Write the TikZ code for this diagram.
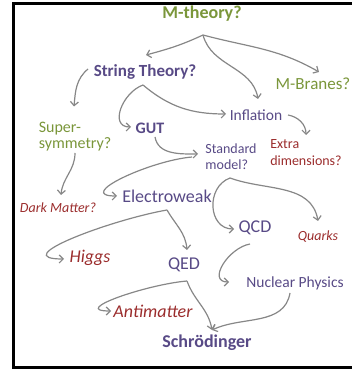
\documentclass[tikz,border=0pt]{standalone}
\usepackage{fontspec}
\setmainfont{Carlito}
\usepackage{xcolor}
\usetikzlibrary{arrows.meta, calc, positioning}
\definecolor{mgreen}{RGB}{122,150,58}
\definecolor{mpurple}{RGB}{88,74,134}
\definecolor{mred}{RGB}{155,45,45}
\definecolor{arrgray}{RGB}{135,135,135}

\begin{document}
\begin{tikzpicture}[x=1pt, y=1pt, line width=1.1pt,
    arr/.style={-{Straight Barb[length=4pt,width=8pt]}, draw=arrgray, line width=1.2pt},
    gn/.style={text=mgreen, inner sep=0pt},
    pu/.style={text=mpurple, inner sep=0pt},
    rd/.style={text=mred, inner sep=0pt, font=\itshape}]
            \useasboundingbox (0,0) rectangle (352,369);
            \draw[line width=3pt] (360,365.5) -- (13.5,365.5) -- (13.5,1.5) -- (360,1.5);
            % theories
            \node[gn, font=\bfseries\fontsize{18}{20}\selectfont] (mth) at (202,355) {M-theory?};
            \node[pu, font=\bfseries\fontsize{17}{19}\selectfont] (st) at (145,297) {String Theory?};
            \node[gn, font=\fontsize{17}{19}\selectfont] (mb) at (313,285) {M-Branes?};
            \node[pu, font=\fontsize{15.5}{17}\selectfont] (inf) at (256,254) {Inflation};
            \node[gn, font=\fontsize{16}{16}\selectfont, align=left] (susy) at (75,232.5) {Super-\\symmetry?};
            \node[pu, font=\bfseries\fontsize{16}{18}\selectfont] (gut) at (150,241) {GUT};
            \node[pu, font=\fontsize{14}{16}\selectfont, align=left] (sm) at (231,212) {Standard\\model?};
            \node[rd, font=\upshape\fontsize{14}{17}\selectfont, align=left] (extra) at (306,216) {Extra\\dimensions?};
            \node[rd, font=\itshape\fontsize{14}{16}\selectfont] (dm) at (58,161) {Dark Matter?};
            \node[pu, font=\fontsize{18}{20}\selectfont] (ew) at (167,173) {Electroweak};
            \node[pu, font=\fontsize{18}{20}\selectfont] (qcd) at (255,141) {QCD};
            \node[rd, font=\itshape\fontsize{14}{16}\selectfont] (quarks) at (318,132) {Quarks};
            \node[rd, font=\itshape\fontsize{18}{20}\selectfont] (higgs) at (90,111) {Higgs};
            \node[pu, font=\fontsize{18}{20}\selectfont] (qed) at (184,104) {QED};
            \node[pu, font=\fontsize{15.5}{17}\selectfont] (nuc) at (295,86) {Nuclear Physics};
            \node[rd, font=\itshape\fontsize{18}{20}\selectfont] (anti) at (153,58) {Antimatter};
            \node[pu, font=\bfseries\fontsize{18}{20}\selectfont] (sch) at (207,26) {Schrödinger};
            % branch points
            \coordinate (mthb) at ($(mth.center)+(1,-21)$);
            \coordinate (stb) at ($(st.center)+(-2,-13)$);
            \coordinate (ewb) at ($(ew.center)+(0,-14)$);
            \coordinate (smb) at ($(sm.center)+(-1,-21)$);
            \coordinate (qedb) at ($(qed.center)+(3,-16)$);
            % links
            \draw[arr] (mthb) to[out=205, in=15] ($(st.center)+(1,17)$);
            \draw[arr] (mthb) to[out=-75, in=100] ($(inf.center)+(2,16)$);
            \draw[arr] (mthb) to[out=-15, in=150] ($(mb.center)+(6,12)$);
            \draw[arr] ($(st.center)+(-57,3)$) to[out=220, in=85] ($(susy.center)+(-1,30)$);
            \draw[arr] (stb) to[out=200, in=180, looseness=1.3] ($(gut.center)+(-19,1)$);
            \draw[arr] (stb) to[out=-40, in=180] ($(inf.center)+(-30,1)$);
            \draw[arr] ($(inf.center)+(32,0)$) to[out=-10, in=90] ($(extra.center)+(0,18)$);
            \draw[arr] ($(gut.center)+(5,-9)$) to[out=-80, in=180] ($(sm.center)+(-33,3)$);
            \draw[arr] ($(sm.center)+(-39,0)$) to[out=185, in=180, looseness=1.3] ($(ew.center)+(-50,0)$);
            \draw[arr] ($(susy.center)+(0,-16.5)$) to[out=-90, in=85] ($(dm.center)+(3,13)$);
            \draw[arr] (ewb) to[out=190, in=180, looseness=1.3] ($(higgs.center)+(-26,-1)$);
            \draw[arr] (ewb) to[out=-60, in=95] ($(qed.center)+(3,15)$);
            \draw[arr] (smb) to[out=200, in=180, looseness=1.3] ($(qcd.center)+(-21,-1)$);
            \draw[arr] (smb) to[out=-20, in=100] ($(quarks.center)+(0,16)$);
            \draw[arr] ($(qcd.center)+(-5,-16)$) to[out=190, in=180, looseness=1.3] ($(nuc.center)+(-66,1)$);
            \draw[arr] (qedb) to[out=185, in=180, looseness=1.3] ($(anti.center)+(-42,0)$);
            \draw[arr] (qedb) to[out=-70, in=100] ($(sch.center)+(5,13)$);
            \draw[arr] ($(nuc.center)+(-5,-10)$) to[out=-100, in=25] ($(sch.center)+(5,13)$);
        \end{tikzpicture}
\end{document}
